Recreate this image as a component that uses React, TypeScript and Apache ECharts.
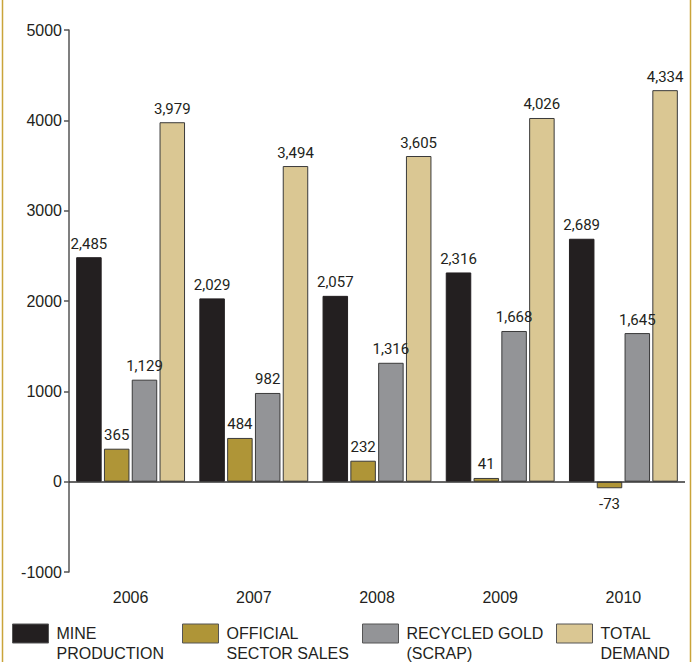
import React, { useEffect, useRef } from "react";
import * as echarts from "echarts";

const years = ["2006", "2007", "2008", "2009", "2010"];
const mineProduction = [2485, 2029, 2057, 2316, 2689];
const officialSectorSales = [365, 484, 232, 41, -73];
const recycledGold = [1129, 982, 1316, 1668, 1645];
const totalDemand = [3979, 3494, 3605, 4026, 4334];
const yTicks = [-1000, 0, 1000, 2000, 3000, 4000, 5000];

const seriesNames = ["MINE\nPRODUCTION", "OFFICIAL\nSECTOR SALES", "RECYCLED GOLD\n(SCRAP)", "TOTAL\nDEMAND"];
const seriesColors = ["#231f20", "#af9537", "#939497", "#dac793"];
const legendLefts = [12, 182, 362, 556];

const labelFont = "Roboto, 'Liberation Sans Narrow', sans-serif";
const mainFont = "'Liberation Sans', Arial, Helvetica, sans-serif";

export default function App() {
  const ref = useRef<HTMLDivElement>(null);

  useEffect(() => {
    if (!ref.current) return;
    const chart = echarts.init(ref.current, null, { renderer: "svg" });
    const fmt = (p: any) => Number(p.value).toLocaleString("en-US");
    const dataSets = [mineProduction, officialSectorSales, recycledGold, totalDemand];

    const series = dataSets.map((arr, i) => ({
      name: seriesNames[i],
      type: "bar",
      barWidth: 25.5,
      barGap: "9%",
      data: arr.map((v) => (v < 0 ? { value: v, label: { position: "bottom", distance: 8 } } : v)),
      itemStyle: {
        color: seriesColors[i],
        borderColor: i === 0 ? "#231f20" : "#3a3a3a",
        borderWidth: 1,
      },
      label: {
        show: true,
        position: "top",
        distance: 6,
        formatter: fmt,
        color: "#231f20",
        fontFamily: labelFont,
        fontSize: 15,
      },
      ...(i === 0
        ? {
            markLine: {
              silent: true,
              symbol: "none",
              label: { show: false },
              lineStyle: { color: "#333333", type: "solid", width: 1.5 },
              data: [{ yAxis: 0 }],
              z: 10,
            },
          }
        : {}),
    }));

    const legends = seriesNames.map((name, i) => ({
      show: true,
      data: [name],
      left: legendLefts[i],
      top: 603.5,
      padding: 0,
      itemWidth: 36,
      itemHeight: 19,
      icon: "rect",
      selectedMode: false,
      formatter: (n: string) => "\n" + n,
      itemStyle: { borderColor: "#555555", borderWidth: 1 },
      textStyle: {
        color: "#231f20",
        fontFamily: mainFont,
        fontSize: 16,
        lineHeight: 20,
        padding: [0, 0, 0, 3],
      },
    }));

    chart.setOption({
      animation: false,
      backgroundColor: "#ffffff",
      grid: { left: 69, right: 11, top: 30, bottom: 90, containLabel: false },
      legend: legends,
      xAxis: {
        type: "category",
        data: years,
        axisLine: { show: false },
        axisTick: { show: false },
        axisLabel: {
          margin: 17,
          color: "#231f20",
          fontFamily: mainFont,
          fontSize: 16,
        },
      },
      yAxis: {
        type: "value",
        min: yTicks[0],
        max: yTicks[yTicks.length - 1],
        interval: 1000,
        axisLine: { show: true, lineStyle: { color: "#555555", width: 1.5 } },
        axisTick: { show: true, length: 5, inside: false, lineStyle: { color: "#555555", width: 1.5 } },
        splitLine: { show: false },
        axisLabel: {
          margin: 7,
          color: "#231f20",
          fontFamily: mainFont,
          fontSize: 16,
          formatter: (v: number) => String(v),
        },
      },
      series,
      graphic: [
        { type: "line", shape: { x1: 2.5, y1: 0, x2: 2.5, y2: 662 }, style: { stroke: "#c9a43a", lineWidth: 1.5 } },
        { type: "line", shape: { x1: 690.5, y1: 0, x2: 690.5, y2: 662 }, style: { stroke: "#c9a43a", lineWidth: 1.5 } },
      ],
    });

    return () => chart.dispose();
  }, []);

  return (
    <div
      ref={ref}
      style={{ position: "absolute", left: 0, top: 0, width: 696, height: 662, background: "#ffffff" }}
    />
  );
}
